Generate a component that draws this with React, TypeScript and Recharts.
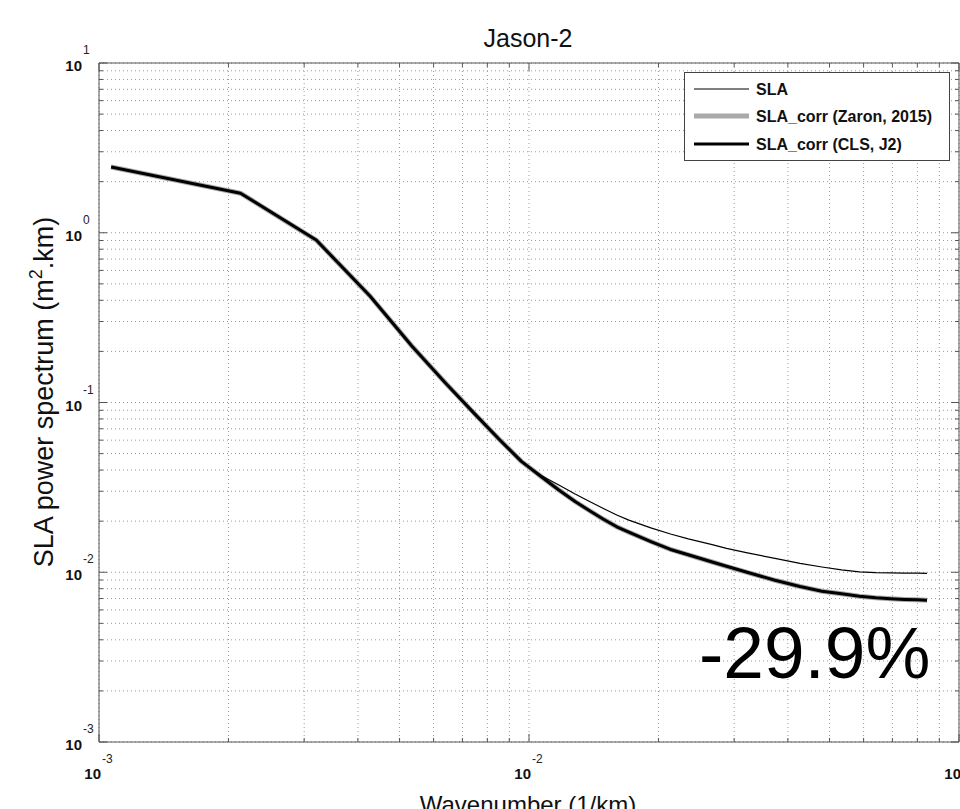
import { LineChart, Line, XAxis, YAxis, CartesianGrid, Legend } from "recharts";

const FONT = "'Liberation Sans', Arial, Helvetica, sans-serif";
const AXIS_COLOR = "#555";
const GRID_COLOR = "#9a9a9a";

// wavenumber (1/km) of the sampled spectrum points
const WAVENUMBER = [
  0.001067, 0.002133, 0.0032, 0.004267, 0.005333, 0.0064, 0.007467, 0.008533, 0.0096,
  0.010667, 0.011733, 0.0128, 0.013867, 0.014933, 0.016, 0.017067, 0.0192, 0.021333,
  0.023467, 0.026667, 0.0288, 0.032, 0.037333, 0.042667, 0.048, 0.053333, 0.058667,
  0.064, 0.069333, 0.074667, 0.08, 0.084267,
];

// power spectrum (m^2.km)
const SLA = [
  2.44, 1.71, 0.906, 0.424, 0.216, 0.13, 0.086, 0.0606, 0.045,
  0.03715, 0.03266, 0.02891, 0.02604, 0.02368, 0.02175, 0.02029, 0.01827, 0.0168,
  0.01572, 0.01453, 0.01382, 0.01304, 0.01207, 0.01129, 0.01074, 0.01032, 0.01005,
  0.00995, 0.00991, 0.00989, 0.00987, 0.00986,
];
const SLA_ZARON = [
  2.44, 1.71, 0.906, 0.424, 0.216, 0.13, 0.086, 0.0606, 0.045,
  0.03665, 0.03051, 0.02611, 0.02295, 0.02045, 0.01853, 0.01722, 0.01517, 0.01362,
  0.01267, 0.01149, 0.01084, 0.01003, 0.008966, 0.008243, 0.007735, 0.007467, 0.007228,
  0.007073, 0.006978, 0.006912, 0.006875, 0.006847,
];
const SLA_CLS = [
  2.44, 1.71, 0.906, 0.424, 0.216, 0.13, 0.086, 0.0606, 0.045,
  0.03665, 0.03051, 0.02611, 0.02295, 0.02045, 0.01853, 0.01722, 0.01517, 0.01362,
  0.01267, 0.01149, 0.01084, 0.01003, 0.008966, 0.008243, 0.007735, 0.007467, 0.007228,
  0.007073, 0.006978, 0.006912, 0.006875, 0.006847,
];

const X_TICKS = [
  0.001, 0.002, 0.003, 0.004, 0.005, 0.006, 0.007, 0.008, 0.009,
  0.01, 0.02, 0.03, 0.04, 0.05, 0.06, 0.07, 0.08, 0.09, 0.1,
];
const Y_TICKS = [
  0.001, 0.002, 0.003, 0.004, 0.005, 0.006, 0.007, 0.008, 0.009,
  0.01, 0.02, 0.03, 0.04, 0.05, 0.06, 0.07, 0.08, 0.09,
  0.1, 0.2, 0.3, 0.4, 0.5, 0.6, 0.7, 0.8, 0.9,
  1, 2, 3, 4, 5, 6, 7, 8, 9, 10,
];

const SERIES = [
  { key: "zaron", name: "SLA_corr (Zaron, 2015)", color: "#aaaaaa", width: 5 },
  { key: "cls", name: "SLA_corr (CLS, J2)", color: "#000000", width: 3 },
  { key: "sla", name: "SLA", color: "#000000", width: 1.2 },
];
const LEGEND_ORDER = ["sla", "zaron", "cls"];

const data = WAVENUMBER.map((k, i) => ({
  k,
  sla: SLA[i],
  zaron: SLA_ZARON[i],
  cls: SLA_CLS[i],
}));

const isDecade = (v: number) => Math.abs(Math.log10(v) - Math.round(Math.log10(v))) < 1e-6;
const expOf = (v: number) => String(Math.round(Math.log10(v)));

function BottomTick({ x, y, payload }: any) {
  const major = isDecade(payload.value);
  return (
    <g>
      <line x1={x} x2={x} y1={y} y2={y - (major ? 8 : 4)} stroke={AXIS_COLOR} />
      {major && (
        <>
          <text x={x + 2} y={y + 37} textAnchor="end" fontFamily={FONT} fontSize={15} fontWeight="bold" fill="#111">
            10
          </text>
          <text x={x + 3} y={y + 21} textAnchor="start" fontFamily={FONT} fontSize={12} fill="#222">
            {expOf(payload.value)}
          </text>
        </>
      )}
    </g>
  );
}

function TopTick({ x, y, payload }: any) {
  const major = isDecade(payload.value);
  return <line x1={x} x2={x} y1={y} y2={y + (major ? 8 : 4)} stroke={AXIS_COLOR} />;
}

function LeftTick({ x, y, payload }: any) {
  const major = isDecade(payload.value);
  return (
    <g>
      <line x1={x} x2={x + (major ? 8 : 4)} y1={y} y2={y} stroke={AXIS_COLOR} />
      {major && (
        <>
          <text x={x - 17} y={y + 8} textAnchor="end" fontFamily={FONT} fontSize={15} fontWeight="bold" fill="#111">
            10
          </text>
          <text x={x - 16} y={y - 9} textAnchor="start" fontFamily={FONT} fontSize={12} fill="#222">
            {expOf(payload.value)}
          </text>
        </>
      )}
    </g>
  );
}

function RightTick({ x, y, payload }: any) {
  const major = isDecade(payload.value);
  return <line x1={x} x2={x - (major ? 8 : 4)} y1={y} y2={y} stroke={AXIS_COLOR} />;
}

function LegendBox() {
  const rows = [17, 44, 72];
  return (
    <div style={{ width: 266, height: 89, border: "1px solid #444", background: "#fff", boxSizing: "border-box" }}>
      <svg width={264} height={87} style={{ display: "block" }}>
        {LEGEND_ORDER.map((key, i) => {
          const s = SERIES.find((d) => d.key === key)!;
          return (
            <g key={key}>
              <line x1={9} x2={64} y1={rows[i] - 1} y2={rows[i] - 1} stroke={s.color} strokeWidth={s.width} />
              <text x={71} y={rows[i] + 5} fontFamily={FONT} fontSize={16} fontWeight="bold" fill="#111">
                {s.name}
              </text>
            </g>
          );
        })}
      </svg>
    </div>
  );
}

export default function App() {
  return (
    <div style={{ position: "absolute", left: 0, top: 0, width: 960, height: 809, background: "#fff", overflow: "hidden" }}>
      <LineChart width={960} height={809} data={data} margin={{ top: 0, right: 0, bottom: 0, left: 0 }}>
        <CartesianGrid stroke={GRID_COLOR} strokeDasharray="1 3" />
        <XAxis
          dataKey="k"
          type="number"
          scale="log"
          domain={[0.001, 0.1]}
          ticks={X_TICKS}
          interval={0}
          allowDataOverflow
          height={67}
          tickSize={0}
          tickMargin={0}
          tickLine={false}
          axisLine={{ stroke: AXIS_COLOR }}
          tick={BottomTick}
        />
        <XAxis
          xAxisId="top"
          orientation="top"
          dataKey="k"
          type="number"
          scale="log"
          domain={[0.001, 0.1]}
          ticks={X_TICKS}
          interval={0}
          allowDataOverflow
          height={63}
          tickSize={0}
          tickMargin={0}
          tickLine={false}
          axisLine={{ stroke: AXIS_COLOR }}
          tick={TopTick}
        />
        <YAxis
          type="number"
          scale="log"
          domain={[0.001, 10]}
          ticks={Y_TICKS}
          interval={0}
          allowDataOverflow
          width={99}
          tickSize={0}
          tickMargin={0}
          tickLine={false}
          axisLine={{ stroke: AXIS_COLOR }}
          tick={LeftTick}
        />
        <YAxis
          yAxisId="right"
          orientation="right"
          type="number"
          scale="log"
          domain={[0.001, 10]}
          ticks={Y_TICKS}
          interval={0}
          allowDataOverflow
          width={1}
          tickSize={0}
          tickMargin={0}
          tickLine={false}
          axisLine={{ stroke: AXIS_COLOR }}
          tick={RightTick}
        />
        {SERIES.map((s) => (
          <Line
            key={s.key}
            dataKey={s.key}
            name={s.name}
            type="linear"
            stroke={s.color}
            strokeWidth={s.width}
            strokeLinejoin="round"
            dot={false}
            activeDot={false}
            isAnimationActive={false}
          />
        ))}
        <Legend
          layout="vertical"
          align="center"
          verticalAlign="middle"
          wrapperStyle={{ position: "absolute", left: 684, top: 72, width: 266, height: 89 }}
          content={() => <LegendBox />}
        />
      </LineChart>
      <svg width={960} height={809} style={{ position: "absolute", left: 0, top: 0, pointerEvents: "none" }}>
        <text x={528} y={47} textAnchor="middle" fontFamily={FONT} fontSize={25} fill="#111">
          Jason-2
        </text>
        <text x={528} y={813} textAnchor="middle" fontFamily={FONT} fontSize={24} fill="#111">
          Wavenumber (1/km)
        </text>
        <text x={53} y={392} textAnchor="middle" fontFamily={FONT} fontSize={27} fill="#111" transform="rotate(-90 53 392)">
          SLA power spectrum (m<tspan dy={-11} fontSize={18}>2</tspan>
          <tspan dy={11}>.km)</tspan>
        </text>
        <text x={699} y={678} textAnchor="start" fontFamily={FONT} fontSize={73} fill="#000">
          -29.9%
        </text>
      </svg>
    </div>
  );
}
